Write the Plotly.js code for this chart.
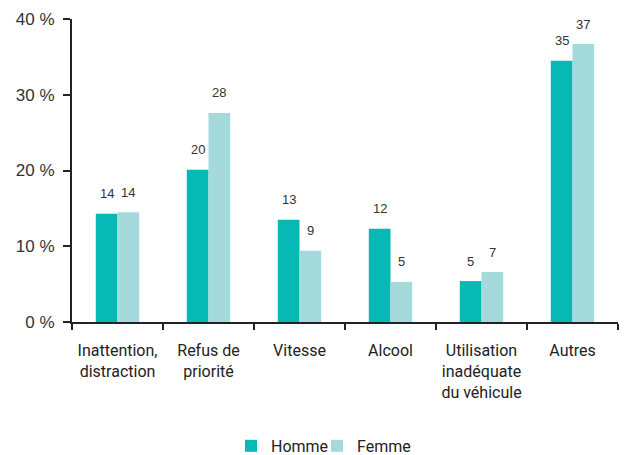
<!DOCTYPE html>
<html>
<head>
<meta charset="utf-8">
<script src="https://cdn.plot.ly/plotly-3.0.1.min.js"></script>
<style>html,body{margin:0;padding:0;background:#fff;}#chart{width:629px;height:455px;}</style>
</head>
<body>
<div id="chart"></div>
<script>
const categories = ["Inattention,<br>distraction", "Refus de<br>priorité", "Vitesse", "Alcool", "Utilisation<br>inadéquate<br>du véhicule", "Autres"];
const homme = [14.3, 20.1, 13.5, 12.3, 5.4, 34.5];
const femme = [14.5, 27.6, 9.4, 5.3, 6.6, 36.7];
const hommeLabels = ["14", "20", "13", "12", "5", "35"];
const femmeLabels = ["14", "28", "9", "5", "7", "37"];
const yTicks = [0, 10, 20, 30, 40];

const colH = "#06b9b4";
const colF = "#a5dadd";
const narrow = "Roboto, 'Liberation Sans Narrow', sans-serif";
const reg = "'Liberation Sans', Arial, sans-serif";

const traces = [
  {type: "bar", name: "Homme", x: categories, y: homme, marker: {color: colH}, hoverinfo: "none", legend: "legend"},
  {type: "bar", name: "Femme", x: categories, y: femme, marker: {color: colF}, hoverinfo: "none", legend: "legend2"}
];

const annotations = [];
categories.forEach((c, i) => {
  annotations.push({x: c, y: homme[i], xref: "x", yref: "y", text: hommeLabels[i], showarrow: false,
    xshift: -10.9, yshift: 20, yanchor: "middle", font: {family: reg, size: 13, color: "#333"}});
  annotations.push({x: c, y: femme[i], xref: "x", yref: "y", text: femmeLabels[i], showarrow: false,
    xshift: 10.9, yshift: 20, yanchor: "middle", font: {family: reg, size: 13, color: "#333"}});
});

const legendBase = {orientation: "h", xref: "container", yref: "container", xanchor: "left",
  y: 0.02, yanchor: "middle", font: {family: narrow, size: 16, color: "#222"}, itemclick: false,
  bgcolor: "rgba(0,0,0,0)"};

const layout = {
  width: 629, height: 455,
  margin: {l: 72, r: 11, t: 19, b: 133},
  paper_bgcolor: "#fff", plot_bgcolor: "#fff",
  barmode: "group",
  bargap: 0.523, bargroupgap: 0,
  showlegend: true,
  legend: Object.assign({}, legendBase, {x: 231 / 629}),
  legend2: Object.assign({}, legendBase, {x: 317 / 629}),
  xaxis: {
    type: "category", showline: true, linecolor: "#222", linewidth: 2,
    ticks: "outside", tickson: "boundaries", ticklen: 6, tickwidth: 2, tickcolor: "#222",
    tickangle: 0, ticklabelstandoff: 13,
    tickfont: {family: narrow, size: 16, color: "#222"}, showgrid: false, zeroline: false,
    fixedrange: true
  },
  yaxis: {
    range: [0, 40], tickvals: yTicks, ticktext: yTicks.map(v => v + " %"),
    showline: true, linecolor: "#222", linewidth: 2,
    ticks: "outside", ticklen: 7, tickwidth: 2, tickcolor: "#222", ticklabelstandoff: 5,
    tickfont: {family: reg, size: 17, color: "#333"}, showgrid: false, zeroline: false,
    fixedrange: true
  },
  annotations: annotations
};

Plotly.newPlot("chart", traces, layout, {displayModeBar: false, staticPlot: true});
</script>
</body>
</html>
